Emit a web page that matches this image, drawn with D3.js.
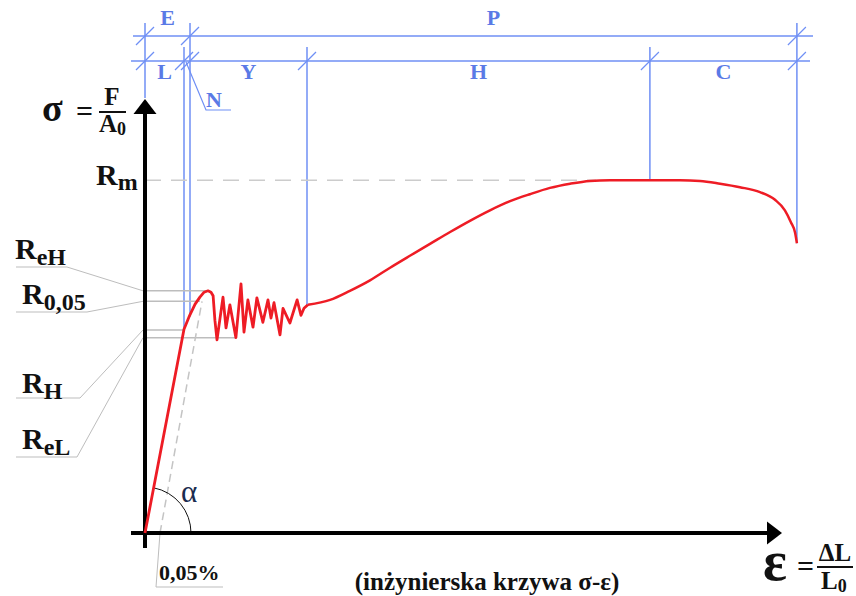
<!DOCTYPE html>
<html>
<head>
<meta charset="utf-8">
<script src="https://cdn.jsdelivr.net/npm/d3@7"></script>
<style>
body { margin: 0; background: #fff; }
svg { display: block; }
text { font-family: "Liberation Serif", "Times New Roman", serif; font-weight: bold; }
</style>
</head>
<body>
<svg id="chart" width="856" height="596"></svg>
<script>
// strain in %, stress in MPa (schematic)
var yieldStrain = [0, 0.130, 0.147, 0.167, 0.183, 0.197, 0.210, 0.220, 0.227, 0.233, 0.240,
  0.260, 0.270, 0.283, 0.303, 0.320, 0.330, 0.343, 0.360, 0.373, 0.393, 0.410, 0.420,
  0.430, 0.450, 0.460, 0.483, 0.507, 0.520, 0.530, 0.543];
var yieldStress = [0, 291, 309, 327, 337, 344, 346, 344, 339, 304, 276,
  337, 293, 326, 279, 356, 287, 333, 294, 336, 301, 333, 307,
  329, 283, 321, 300, 333, 311, 321, 326];
var hardStrain = [0.543, 0.617, 0.683, 0.750, 0.817, 0.883, 0.950, 1.017, 1.083, 1.150,
  1.217, 1.283, 1.350, 1.417, 1.483, 1.550, 1.783, 1.850, 1.917, 1.983, 2.050, 2.100,
  2.133, 2.153, 2.167, 2.173];
var hardStress = [326, 333, 346, 361, 379, 396, 413, 430, 446, 461,
  474, 484, 493, 499, 503, 504, 504, 503, 499, 494, 487, 476,
  461, 444, 429, 414];

// 0,05% offset line
var offsetStrain = [0.05, 0.19];
var offsetStress = [0, 331];

// characteristic stresses
var Rm = 504;
var rNames = ["eH", "0,05", "H", "eL"];
var rStress = [346, 331, 290, 279];
var rStrainEnd = [0.210, 0.183, 0.130, 0.303];

// zones
var upperNames = ["E", "P"];
var upperEdges = [0, 0.150, 2.173];
var lowerNames = ["L", "N", "Y", "H", "C"];
var lowerEdges = [0, 0.130, 0.150, 0.540, 1.683, 2.173];
var edgeStress = [0, 290, 309, 326, 504, 414];

var svg = d3.select("#chart");

var x = d3.scaleLinear().domain([0, 2.2]).range([145, 805]);
var y = d3.scaleLinear().domain([0, 620]).range([533, 99]);

var blue = "#6f8ff5";
var blueText = "#5a7ae6";
var grey = "#bdbdbd";

// ---- dimension lines (top) ----
var dimTop = 36, dimLow = 61;

svg.append("line").attr("x1", 133).attr("x2", 813).attr("y1", dimTop).attr("y2", dimTop)
  .style("stroke", blue).style("stroke-width", 1.5);
svg.append("line").attr("x1", 131).attr("x2", 810).attr("y1", dimLow).attr("y2", dimLow)
  .style("stroke", blue).style("stroke-width", 1.5);

lowerEdges.forEach(function(s, i) {
  var top = upperEdges.indexOf(s) >= 0 ? 23 : 47;
  var bottom = i == 0 ? 98 : y(edgeStress[i]);
  svg.append("line")
    .attr("x1", x(s)).attr("x2", x(s))
    .attr("y1", top).attr("y2", bottom)
    .style("stroke", blue).style("stroke-width", 1.5);
});

function slash(cx, cy) {
  svg.append("line")
    .attr("x1", cx - 9).attr("y1", cy + 9)
    .attr("x2", cx + 9).attr("y2", cy - 9)
    .style("stroke", blue).style("stroke-width", 1.2);
}
upperEdges.forEach(function(s) { slash(x(s), dimTop); });
lowerEdges.forEach(function(s) { slash(x(s), dimLow); });

upperNames.forEach(function(n, i) {
  svg.append("text")
    .attr("x", (x(upperEdges[i]) + x(upperEdges[i + 1])) / 2)
    .attr("y", 25)
    .attr("text-anchor", "middle")
    .style("font-size", "22px")
    .style("fill", blueText)
    .text(n);
});

lowerNames.forEach(function(n, i) {
  var a = x(lowerEdges[i]), b = x(lowerEdges[i + 1]);
  if (b - a < 15) {
    // narrow zone -> leader
    svg.append("polyline")
      .attr("points", [[a + 2, dimLow + 1], [a + 22, 110], [a + 47, 110]].join(" "))
      .style("fill", "none").style("stroke", blue).style("stroke-width", 1.2);
    svg.append("text")
      .attr("x", a + 22).attr("y", 107)
      .style("font-size", "22px")
      .style("fill", blueText)
      .text(n);
  } else {
    svg.append("text")
      .attr("x", (a + b) / 2)
      .attr("y", 79)
      .attr("text-anchor", "middle")
      .style("font-size", "22px")
      .style("fill", blueText)
      .text(n);
  }
});

// ---- Rm dashed line ----
svg.append("line")
  .attr("x1", x(0)).attr("x2", x(1.503))
  .attr("y1", y(Rm)).attr("y2", y(Rm))
  .style("stroke", "#cccccc").style("stroke-width", 1.5)
  .style("stroke-dasharray", "16,10");

// ---- characteristic stress lines + labels ----
var labelX = [15, 22, 22, 22];
var labelBase = [259, 304, 393, 449];
var underY = [267, 312, 398, 457];
var underEnd = [67, 87, 80, 77];

rNames.forEach(function(n, i) {
  svg.append("line")
    .attr("x1", x(0)).attr("x2", x(rStrainEnd[i]))
    .attr("y1", y(rStress[i])).attr("y2", y(rStress[i]))
    .style("stroke", grey).style("stroke-width", 1.5);
  svg.append("polyline")
    .attr("points", [[16, underY[i]], [underEnd[i], underY[i]], [143, y(rStress[i])]].join(" "))
    .style("fill", "none").style("stroke", grey).style("stroke-width", 1);
  var t = svg.append("text")
    .attr("x", labelX[i]).attr("y", labelBase[i])
    .style("font-size", "30px").style("fill", "#111");
  t.append("tspan").text("R");
  t.append("tspan").attr("dy", 6).style("font-size", "24px").text(n);
});

var rm = svg.append("text").attr("x", 96).attr("y", 185)
  .style("font-size", "30px").style("fill", "#111");
rm.append("tspan").text("R");
rm.append("tspan").attr("dy", 5).style("font-size", "24px").text("m");

// ---- offset line 0,05% ----
svg.append("line")
  .attr("x1", x(offsetStrain[0])).attr("y1", y(offsetStress[0]))
  .attr("x2", x(offsetStrain[1])).attr("y2", y(offsetStress[1]))
  .style("stroke", "#c4c4c4").style("stroke-width", 1.5)
  .style("stroke-dasharray", "8,5");

svg.append("polyline")
  .attr("points", [[x(offsetStrain[0]), y(0)], [x(offsetStrain[0]) - 4, 587], [223, 587]].join(" "))
  .style("fill", "none").style("stroke", grey).style("stroke-width", 1);
svg.append("text").attr("x", 159).attr("y", 580)
  .style("font-size", "22px").style("fill", "#111").text("0,05%");

// ---- angle alpha ----
var ang = Math.atan2(y(yieldStress[1]) - y(0), x(yieldStrain[1]) - x(0));
var p = d3.path();
p.arc(x(0), y(0), 46, ang, 0);
svg.append("path").attr("d", p.toString())
  .style("fill", "none").style("stroke", "#111").style("stroke-width", 1);
svg.append("text").attr("x", 181).attr("y", 502)
  .style("font-size", "31px").style("font-weight", "normal").style("fill", "#1b2c4f")
  .text("α");

// ---- axes ----
svg.append("line").attr("x1", x(0)).attr("x2", x(0)).attr("y1", 110).attr("y2", 548)
  .style("stroke", "#000").style("stroke-width", 4);
svg.append("path").attr("d", "M145,99L133.5,114L156.5,114Z").style("fill", "#000");
svg.append("line").attr("x1", 131).attr("x2", 772).attr("y1", y(0)).attr("y2", y(0))
  .style("stroke", "#000").style("stroke-width", 4);
svg.append("path").attr("d", "M782,533L767,521.5L767,544.5Z").style("fill", "#000");

// ---- curve ----
var lineLin = d3.line()
  .x(function(d) { return x(d[0]); })
  .y(function(d) { return y(d[1]); });
var lineSmooth = d3.line()
  .x(function(d) { return x(d[0]); })
  .y(function(d) { return y(d[1]); })
  .curve(d3.curveMonotoneX);

svg.append("path")
  .datum(d3.zip(yieldStrain, yieldStress))
  .attr("d", lineLin)
  .style("fill", "none").style("stroke", "#ee1c25").style("stroke-width", 2.8)
  .style("stroke-linejoin", "round");
svg.append("path")
  .datum(d3.zip(hardStrain, hardStress))
  .attr("d", lineSmooth)
  .style("fill", "none").style("stroke", "#ee1c25").style("stroke-width", 2.5);

// ---- axis titles ----
svg.append("text").attr("x", 42).attr("y", 121).style("font-size", "38px").style("fill", "#111").text("σ");
svg.append("text").attr("x", 76).attr("y", 121).style("font-size", "30px").style("fill", "#111").text("=");
svg.append("text").attr("x", 112).attr("y", 105).attr("text-anchor", "middle")
  .style("font-size", "25px").style("fill", "#111").text("F");
svg.append("line").attr("x1", 99).attr("x2", 126).attr("y1", 112).attr("y2", 112)
  .style("stroke", "#111").style("stroke-width", 2);
var a0 = svg.append("text").attr("x", 99).attr("y", 132).style("font-size", "25px").style("fill", "#111");
a0.append("tspan").text("A");
a0.append("tspan").attr("dy", 3).style("font-size", "18px").text("0");

svg.append("text").attr("x", 763).attr("y", 580).style("font-size", "56px").style("fill", "#111").text("ε");
svg.append("text").attr("x", 797).attr("y", 576).style("font-size", "30px").style("fill", "#111").text("=");
svg.append("text").attr("x", 835).attr("y", 561).attr("text-anchor", "middle")
  .style("font-size", "25px").style("fill", "#111").text("ΔL");
svg.append("line").attr("x1", 817).attr("x2", 853).attr("y1", 567).attr("y2", 567)
  .style("stroke", "#111").style("stroke-width", 2);
var l0 = svg.append("text").attr("x", 821).attr("y", 589).style("font-size", "25px").style("fill", "#111");
l0.append("tspan").text("L");
l0.append("tspan").attr("dy", 3).style("font-size", "18px").text("0");

svg.append("text").attr("x", 487).attr("y", 590).attr("text-anchor", "middle")
  .style("font-size", "25px").style("fill", "#111").text("(inżynierska krzywa σ-ε)");
</script>
</body>
</html>
